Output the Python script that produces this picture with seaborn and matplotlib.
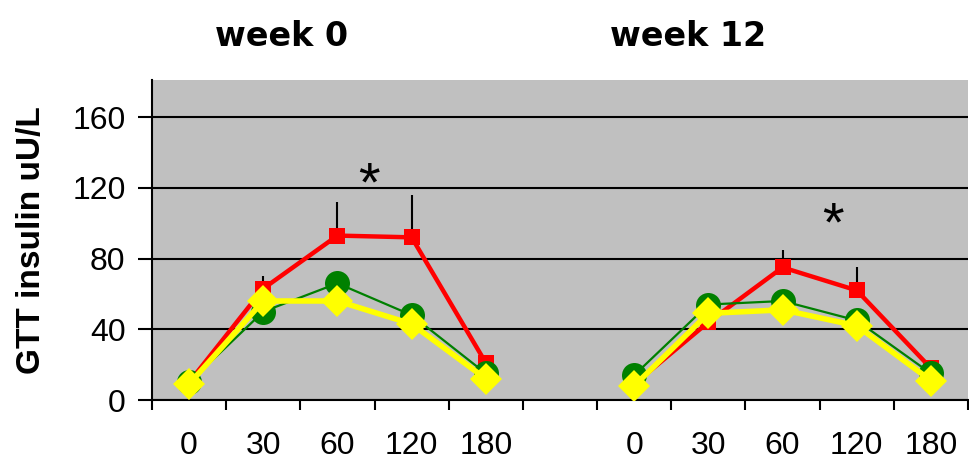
import matplotlib
matplotlib.use("Agg")
import matplotlib.pyplot as plt
import seaborn as sns
import numpy as np
import pandas as pd
from matplotlib.ticker import FixedLocator

# ---- data ----
time_labels = ["0", "30", "60", "120", "180"]
weeks = ["week 0", "week 12"]

red_w0 = [10, 63, 93, 92, 21]
red_w12 = [9, 44, 75, 62, 18]
red_err_w0 = [0, 7, 19, 24, 0]
red_err_w12 = [0, 0, 10, 13, 0]

green_w0 = [10, 50, 66, 48, 15]
green_w12 = [14, 54, 56, 45, 15]

yellow_w0 = [9, 56, 56, 43, 12]
yellow_w12 = [8, 49, 51, 42, 11]

star_positions = [2.43, 8.68]
star_values = [121, 98]

# ---- build long table ----
rows = []
series = {
    "red": (red_w0, red_w12),
    "green": (green_w0, green_w12),
    "yellow": (yellow_w0, yellow_w12),
}
for name, (a, b) in series.items():
    for w, vals, offset in ((weeks[0], a, 0), (weeks[1], b, 6)):
        for i, v in enumerate(vals):
            rows.append({"series": name, "week": w, "pos": i + offset, "value": v})
df = pd.DataFrame(rows)

sns.set_theme(style="white")
plt.rcParams["font.family"] = ["Liberation Sans", "DejaVu Sans"]
plt.rcParams["text.color"] = "black"
plt.rcParams["axes.labelcolor"] = "black"
plt.rcParams["xtick.color"] = "black"
plt.rcParams["ytick.color"] = "black"

fig = plt.figure(figsize=(9.7, 4.62), dpi=100)
ax = fig.add_axes([152 / 970, 1 - 400 / 462, 816 / 970, 320 / 462])
ax.set_facecolor("#c0c0c0")

styles = {
    "red": dict(color="#ff0000", marker="s", lw=3.2, ms=12, z=3),
    "green": dict(color="#008000", marker="o", lw=1.6, ms=18, z=4),
    "yellow": dict(color="#ffff00", marker="D", lw=4.0, ms=16, z=5),
}

# error bars (upward only) for red
red_pos = list(range(5)) + list(range(6, 11))
red_vals = red_w0 + red_w12
red_errs = red_err_w0 + red_err_w12
for p, v, e in zip(red_pos, red_vals, red_errs):
    if e > 0:
        ax.vlines(p, v, v + e, color="black", lw=1.5, zorder=2)

for name in ["red", "green", "yellow"]:
    st = styles[name]
    for w in weeks:
        sub = df[(df.series == name) & (df.week == w)]
        sns.lineplot(data=sub, x="pos", y="value", ax=ax, color=st["color"],
                     marker=st["marker"], markersize=st["ms"], linewidth=st["lw"],
                     markeredgewidth=0,
                     estimator=None, sort=False, legend=False, zorder=st["z"])

for p, v in zip(star_positions, star_values):
    ax.text(p, v, "*", ha="center", va="center", fontsize=40, color="black")

ax.set_xlim(-0.5, 10.5)
ax.set_ylim(0, 181)
ax.set_yticks([0, 40, 80, 120, 160])
ax.set_yticklabels(["0", "40", "80", "120", "160"], fontsize=23)
ax.yaxis.grid(True, color="black", lw=1.5)
ax.xaxis.grid(False)
ax.set_axisbelow(True)

centers = list(range(5)) + list(range(6, 11))
ax.set_xticks(centers)
ax.set_xticklabels(time_labels + time_labels, fontsize=23)
ax.xaxis.set_minor_locator(FixedLocator(np.arange(-0.5, 11, 1)))
ax.tick_params(axis="x", which="major", length=0, pad=22, labelcolor="black")
ax.tick_params(axis="x", which="minor", length=7, width=1.5, color="black", direction="out", bottom=True)
ax.tick_params(axis="y", which="major", length=10, width=1.5, color="black", direction="out", left=True, pad=9, labelcolor="black")

for s in ["top", "right"]:
    ax.spines[s].set_visible(False)
for s in ["left", "bottom"]:
    ax.spines[s].set_color("black")
    ax.spines[s].set_linewidth(1.5)

ax.set_xlabel("")
ax.set_ylabel("GTT insulin uU/L", fontsize=24, fontweight="bold", labelpad=18, color="black")

fig.text(282 / 970, 1 - 36 / 462, weeks[0], ha="center", va="center",
         fontsize=24, fontweight="bold", family=["DejaVu Sans"], color="black")
fig.text(688 / 970, 1 - 36 / 462, weeks[1], ha="center", va="center",
         fontsize=24, fontweight="bold", family=["DejaVu Sans"], color="black")

fig.savefig("out.png", dpi=100)
